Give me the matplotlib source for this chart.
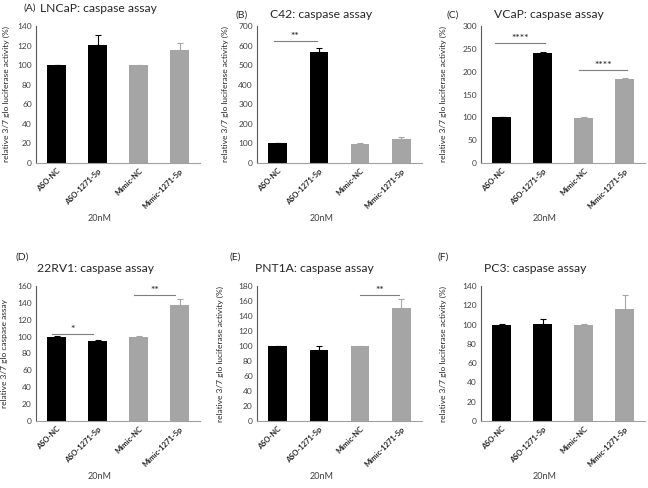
import numpy as np
import matplotlib
matplotlib.use('Agg')
import matplotlib.pyplot as plt

plt.rcParams['font.family'] = ['Lato', 'DejaVu Sans']

# categories and colours
groups = ['ASO-NC', 'ASO-1271-5p', 'Mimic-NC', 'Mimic-1271-5p']
bar_colors = ['black', 'black', '#a5a5a5', '#a5a5a5']

# values (mean, upper error)
lncap = [100, 121, 100, 115]
lncap_err = [0.3, 10, 0.5, 8]
c42 = [100, 565, 98, 121]
c42_err = [3, 22, 3, 14]
vcap = [100, 240, 99, 183]
vcap_err = [1, 4, 1, 4]
rv1 = [100, 95, 100, 138]
rv1_err = [0.3, 1.5, 0.5, 7]
pnt1a = [100, 95, 100, 151]
pnt1a_err = [0.3, 4.5, 0.5, 11.5]
pc3 = [100, 100.5, 100, 116.5]
pc3_err = [0.3, 5, 0.3, 14]

W, H = 648, 488
fig = plt.figure(figsize=(W / 100, H / 100), dpi=100)

def px_axes(left, top, right, bottom):
    return fig.add_axes([left / W, 1 - bottom / H, (right - left) / W, (bottom - top) / H])

def draw_panel(ax, vals, errs, ymax, ystep, ylabel, ylab_x):
    x = np.arange(len(groups))
    for i in range(len(vals)):
        ax.bar(x[i], vals[i], width=0.45, color=bar_colors[i], zorder=2)
        ax.errorbar(x[i], vals[i], yerr=[[0], [errs[i]]], fmt='none',
                    ecolor=bar_colors[i], elinewidth=0.8, capsize=2.5, capthick=0.8, zorder=3)
    ax.set_xlim(-0.5, 3.5)
    ax.set_ylim(0, ymax)
    ax.set_yticks(np.arange(0, ymax + 1, ystep))
    ax.set_xticks(x)
    ax.set_xticklabels(groups, rotation=45, ha='right', rotation_mode='anchor',
                       fontsize=5.5, fontweight='bold', color='#262626')
    ax.tick_params(axis='both', length=0, pad=3)
    ax.tick_params(axis='y', labelsize=6, labelcolor='#404040')
    for s in ['top', 'right']:
        ax.spines[s].set_visible(False)
    ax.spines['left'].set_color('#595959')
    ax.spines['bottom'].set_color('#a0a0a0')
    ax.spines['left'].set_linewidth(0.8)
    ax.spines['bottom'].set_linewidth(0.8)
    ax.set_ylabel(ylabel, fontsize=6, color='#262626')
    ax.yaxis.set_label_coords(ylab_x, 0.5)
    ax.set_xlabel('20nM', fontsize=6.5, color='#404040')
    ax.xaxis.set_label_coords(0.39, -0.375)

def sig(ax, x0, x1, y, stars):
    ax.plot([x0, x1], [y, y], color='#7f7f7f', lw=0.8, zorder=3)
    ax.text((x0 + x1) / 2, y, stars, ha='center', va='bottom', fontsize=7.5,
            fontweight='bold', color='#404040')

lab1 = 'relative 3/7 glo luciferase activity (%)'
lab2 = 'relative 3/7 glo caspase assay'

axA = px_axes(36, 26, 200, 163)
draw_panel(axA, lncap, lncap_err, 140, 20, lab1, -0.16)
axB = px_axes(257, 26, 422, 163)
draw_panel(axB, c42, c42_err, 700, 100, lab1, -0.17)
sig(axB, -0.1, 0.95, 623, '**')
axC = px_axes(481, 26, 645, 163)
draw_panel(axC, vcap, vcap_err, 300, 50, lab1, -0.21)
sig(axC, -0.15, 1.05, 263, '****')
sig(axC, 1.9, 3.05, 204, '****')

axD = px_axes(36, 286, 200, 421)
draw_panel(axD, rv1, rv1_err, 160, 20, lab2, -0.17)
sig(axD, -0.1, 0.9, 103.5, '*')
sig(axD, 1.9, 2.9, 149.5, '**')
axE = px_axes(257, 286, 422, 421)
draw_panel(axE, pnt1a, pnt1a_err, 180, 20, lab1, -0.2)
sig(axE, 2.0, 2.95, 167.5, '**')
axF = px_axes(481, 286, 645, 421)
draw_panel(axF, pc3, pc3_err, 140, 20, lab1, -0.21)

def ftext(x, y, s, ha='left', size=8.7):
    fig.text(x / W, 1 - y / H, s, ha=ha, va='center', fontsize=size, color='#262626')

ftext(23, 8, '(A)', size=7.5)
ftext(40, 8, 'LNCaP: caspase assay')
ftext(236, 15, '(B)', size=7.5)
ftext(321, 15, 'C42: caspase assay', ha='center')
ftext(447, 15, '(C)', size=7.5)
ftext(549, 15, 'VCaP: caspase assay', ha='center')
ftext(15, 257, '(D)', size=7.5)
ftext(95, 268, '22RV1: caspase assay', ha='center')
ftext(229, 257, '(E)', size=7.5)
ftext(314, 268, 'PNT1A: caspase assay', ha='center')
ftext(437, 257, '(F)', size=7.5)
ftext(535, 268, 'PC3: caspase assay', ha='center')

fig.savefig('out.png', dpi=100)
